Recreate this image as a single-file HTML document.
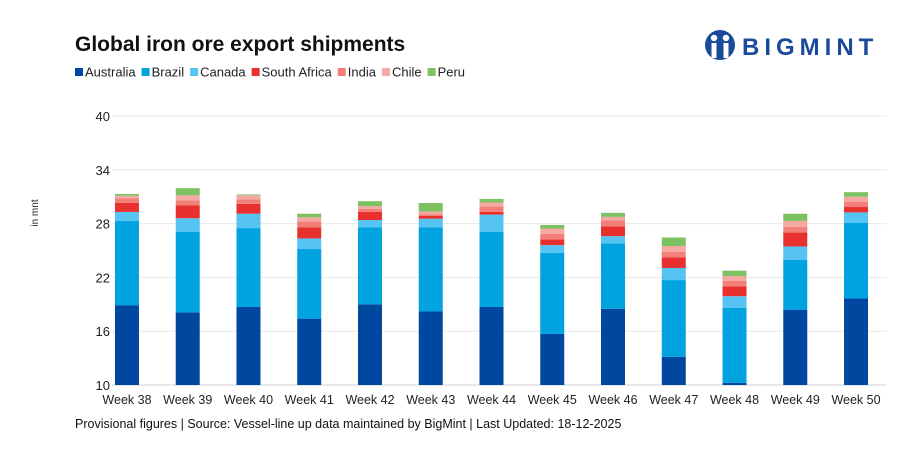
<!DOCTYPE html>
<html><head><meta charset="utf-8"><style>
body{margin:0;background:#fff;font-family:"Liberation Sans",sans-serif;}
#wrap{position:relative;width:911px;height:453px;overflow:hidden;}
</style></head><body>
<div id="wrap">
<svg id="chart" width="911" height="453">
<text x="75" y="51" font-size="21" font-weight="bold" fill="#111">Global iron ore export shipments</text>
<g>
<circle cx="720" cy="45" r="15" fill="#1a4a9c"/>
<circle cx="714" cy="38" r="3.2" fill="#fff"/><circle cx="726" cy="38" r="3.2" fill="#fff"/>
<rect x="711.5" y="43" width="5" height="15" fill="#fff"/><rect x="723.5" y="43" width="5" height="15" fill="#fff"/>
<text x="742" y="55" font-size="24" font-weight="bold" fill="#1a4a9c" letter-spacing="5">BIGMINT</text>
</g>
<text x="38" y="213" font-size="10" fill="#222" transform="rotate(-90 38 213)" text-anchor="middle">in mnt</text>
<text x="75" y="428" font-size="12.5" fill="#111">Provisional figures | Source: Vessel-line up data maintained by BigMint | Last Updated: 18-12-2025</text>
<g id="legend"></g><g id="grid"></g><g id="bars"></g><g id="xlabels"></g>
</svg>
</div>
<script>
const categories=["Week 38","Week 39","Week 40","Week 41","Week 42","Week 43","Week 44","Week 45","Week 46","Week 47","Week 48","Week 49","Week 50"];
const seriesNames=["Australia","Brazil","Canada","South Africa","India","Chile","Peru"];
const australia=[18.9,18.1,18.7,17.4,19.0,18.2,18.7,15.7,18.5,13.15,10.25,18.4,19.65];
const brazil=[9.4,9.0,8.8,7.8,8.6,9.4,8.4,9.05,7.3,8.55,8.35,5.55,8.45];
const canada=[1.0,1.5,1.6,1.15,0.8,0.95,1.9,0.85,0.8,1.35,1.3,1.5,1.15];
const southAfrica=[1.0,1.45,1.1,1.25,0.9,0.3,0.3,0.65,1.1,1.2,1.1,1.55,0.6];
const india=[0.5,0.55,0.5,0.65,0.35,0.2,0.6,0.6,0.65,0.6,0.6,0.65,0.6];
const chile=[0.3,0.55,0.45,0.45,0.3,0.3,0.45,0.6,0.4,0.65,0.55,0.65,0.55];
const peru=[0.2,0.8,0.1,0.4,0.55,0.95,0.4,0.4,0.45,0.95,0.6,0.8,0.5];
const yTicks=[10,16,22,28,34,40];
const series=[australia,brazil,canada,southAfrica,india,chile,peru];
const colors=["#0047a0","#00a3e0","#55c4f2","#e8312f","#f28079","#f6a8a2","#7cc162"];
const NS="http://www.w3.org/2000/svg";
const yMin=10,yMax=40,plotTop=116,plotBottom=385,plotLeft=96.6,plotRight=886.4;
const y=v=>plotBottom-(Math.max(v,yMin)-yMin)/(yMax-yMin)*(plotBottom-plotTop);
const bw=(plotRight-plotLeft)/categories.length;
const xc=i=>plotLeft+bw*(i+0.5);
function mk(t,a,p){const e=document.createElementNS(NS,t);for(const k in a)e.setAttribute(k,a[k]);p.appendChild(e);return e;}
const grid=document.getElementById('grid');
yTicks.forEach(t=>{
 const l=mk('line',{x1:112,x2:plotRight,y1:y(t),y2:y(t),stroke:t===yMin?'#d0d0d0':'#e8e8e8','stroke-width':1},grid);
 
 
 const tx=mk('text',{x:110,y:y(t)+5,'font-size':13,'text-anchor':'end',fill:'#222'},grid);
 tx.textContent=t;
 
 
});
const bars=document.getElementById('bars'),xl=document.getElementById('xlabels');
categories.forEach((c,i)=>{
 let cum=0;
 series.forEach((s,k)=>{
  const y0=y(cum);cum+=s[i];const y1=y(cum);
  const r=mk('rect',{x:xc(i)-12,y:y1,width:24,height:Math.max(0,y0-y1),fill:colors[k]},bars);
  
  
 });
 const t=mk('text',{x:xc(i),y:404,'font-size':12.5,'text-anchor':'middle',fill:'#222'},xl);
 t.textContent=c;
 
 
});
const lg=document.getElementById('legend');let lx=75;
seriesNames.forEach((n,k)=>{
 const g=mk('g',{},lg);
 
 
 mk('rect',{x:lx,y:68,width:8,height:8,fill:colors[k]},g);
 const t=mk('text',{x:lx+10,y:76.5,'font-size':13,fill:'#222'},g);
 t.textContent=n;
 lx+=10+t.getComputedTextLength()+6;
});
</script>
</body></html>
